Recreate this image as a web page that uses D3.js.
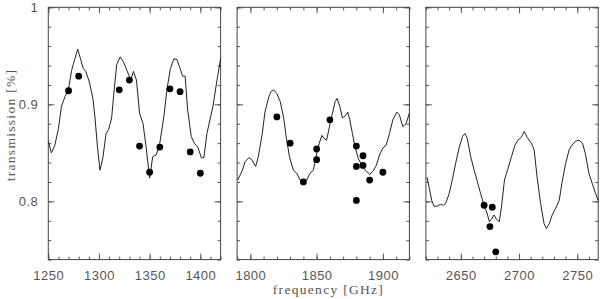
<!DOCTYPE html>
<html>
<head>
<meta charset="utf-8">
<script src="https://cdn.jsdelivr.net/npm/d3@7"></script>
<style>
  body { margin: 0; background: #fff; }
  svg { display: block; }
  .tick text { font-family: "Liberation Sans", sans-serif; font-size: 13px; letter-spacing: 0.5px; fill: #555; }
  .tick line { stroke: #555; }
  .title { font-family: "Liberation Serif", serif; font-size: 13.5px; letter-spacing: 1.3px; fill: #555; }
</style>
</head>
<body>
<svg id="chart"></svg>
<script>
// transmission curves, [frequency GHz, transmission]
var curveLeft = [
  [1250, 0.862], [1253, 0.850], [1256.5, 0.858], [1260, 0.875], [1263, 0.898], [1266.5, 0.908],
  [1270, 0.916], [1273, 0.935], [1276, 0.946], [1279, 0.957], [1282, 0.946], [1284.5, 0.937],
  [1287, 0.934], [1290.5, 0.923], [1294, 0.906], [1296, 0.887], [1298.5, 0.856], [1301, 0.832],
  [1304, 0.846], [1307, 0.870], [1309.5, 0.874], [1312.5, 0.886], [1315, 0.915], [1317.5, 0.941],
  [1321, 0.949], [1324, 0.944], [1327.5, 0.935], [1331.5, 0.925], [1334, 0.934], [1337, 0.925],
  [1340, 0.891], [1343.5, 0.880], [1346.5, 0.856], [1350, 0.824], [1353, 0.846], [1356.5, 0.848],
  [1360, 0.860], [1364, 0.887], [1367, 0.915], [1370.5, 0.937], [1374, 0.947], [1377, 0.946],
  [1380, 0.937], [1382.5, 0.929], [1385, 0.929], [1387.5, 0.894], [1391, 0.867], [1394, 0.860],
  [1397.5, 0.856], [1401, 0.845], [1403.5, 0.845], [1406.5, 0.870], [1409.5, 0.884],
  [1412.5, 0.898], [1416, 0.922], [1420, 0.947]
]
var curveMiddle = [
  [1790.5, 0.822], [1794, 0.832], [1796, 0.841], [1799, 0.845], [1801, 0.843], [1804, 0.836],
  [1806, 0.846], [1809, 0.870], [1811, 0.892], [1814, 0.908], [1815.5, 0.913], [1817.5, 0.915],
  [1820, 0.911], [1822.5, 0.903], [1825, 0.887], [1827, 0.867], [1829.5, 0.846], [1832.5, 0.832],
  [1835, 0.829], [1837.5, 0.822], [1840, 0.819], [1842.5, 0.822], [1845, 0.829], [1847.5, 0.832],
  [1850, 0.849], [1852, 0.860], [1854, 0.868], [1855.5, 0.865], [1857.5, 0.863], [1860, 0.879],
  [1862, 0.891], [1864, 0.903], [1865.5, 0.906], [1867.5, 0.898], [1869.5, 0.886], [1871.5, 0.888],
  [1873.5, 0.892], [1875, 0.884], [1877, 0.870], [1879, 0.856], [1881.5, 0.844], [1884.5, 0.836],
  [1887.5, 0.831], [1890, 0.828], [1892.5, 0.831], [1895, 0.837], [1897.5, 0.848], [1900, 0.855],
  [1902.5, 0.858], [1905, 0.870], [1907.5, 0.884], [1910.5, 0.892], [1912.5, 0.889], [1915, 0.877],
  [1917.5, 0.880], [1920, 0.891]
]
var curveRight = [
  [2621, 0.825], [2623, 0.813], [2625, 0.801], [2627, 0.795], [2629.5, 0.795], [2632.5, 0.797],
  [2635, 0.796], [2637, 0.798], [2640, 0.808], [2643, 0.824], [2645.5, 0.839], [2648.5, 0.855],
  [2651.5, 0.867], [2653.5, 0.870], [2655.5, 0.865], [2658.5, 0.846], [2661.5, 0.832], [2664.5, 0.819],
  [2667, 0.808], [2670, 0.796], [2672.5, 0.788], [2674.5, 0.779], [2676.5, 0.782], [2678.5, 0.786],
  [2680.5, 0.782], [2683, 0.779], [2685, 0.795], [2687.5, 0.822], [2690.5, 0.834], [2693.5, 0.846],
  [2696.5, 0.858], [2699, 0.863], [2702, 0.866], [2704.5, 0.872], [2707, 0.866], [2710.5, 0.860],
  [2713, 0.853], [2715.5, 0.825], [2718.5, 0.798], [2721.5, 0.777], [2723.5, 0.772], [2726, 0.777],
  [2728.5, 0.786], [2731.5, 0.793], [2734.5, 0.801], [2737, 0.820], [2740, 0.839], [2743, 0.853],
  [2745.5, 0.858], [2748.5, 0.862], [2751.5, 0.863], [2754.5, 0.860], [2757, 0.849], [2760, 0.829],
  [2763, 0.818], [2765.5, 0.809], [2768, 0.801]
]

// measured points
var pointsLeft = [
  [1270, 0.914], [1280, 0.929], [1320, 0.915], [1330, 0.925], [1340, 0.857], [1350, 0.830],
  [1360, 0.856], [1370, 0.916], [1380, 0.913], [1390, 0.851], [1400, 0.829]
]
var pointsMiddle = [
  [1820, 0.887], [1830, 0.860], [1840, 0.820], [1850, 0.854], [1850, 0.843], [1860, 0.884],
  [1880, 0.857], [1880, 0.836], [1880, 0.801], [1885, 0.847], [1885, 0.837], [1890, 0.822],
  [1900, 0.830]
]
var pointsRight = [
  [2670, 0.796], [2677, 0.794], [2675, 0.774], [2680, 0.748]
]

var domainsX = [[1250, 1420], [1790, 1920], [2620, 2768]]
var majorX = [[1250, 1300, 1350, 1400], [1800, 1850, 1900], [2650, 2700, 2750]]
var majorY = [0.8, 0.9, 1]
var domainY = [0.74, 1]

var dimensions = {
    width: 600,
    height: 299,
    margin: { top: 7.3, left: 48.3 },
    panelWidth: 172.3,
    panelHeight: 252.3,
    gap: 16.5,
    major: 6,
    minor: 3
}

var svg = d3.select("#chart")
    .attr("width", dimensions.width)
    .attr("height", dimensions.height)

var yScale = d3.scaleLinear()
    .domain(domainY)
    .range([dimensions.margin.top + dimensions.panelHeight, dimensions.margin.top])

var minorY = d3.range(37, 51).map(i => +(i * 0.02).toFixed(2))

var panels = [
    { curve: curveLeft, points: pointsLeft },
    { curve: curveMiddle, points: pointsMiddle },
    { curve: curveRight, points: pointsRight }
]

panels.forEach(function (p, i) {
    var x0 = dimensions.margin.left + i * (dimensions.panelWidth + dimensions.gap)
    var x1 = x0 + dimensions.panelWidth
    var y0 = dimensions.margin.top
    var y1 = y0 + dimensions.panelHeight

    var xScale = d3.scaleLinear().domain(domainsX[i]).range([x0, x1])
    var lo = domainsX[i][0], hi = domainsX[i][1]
    var minorX = d3.range(Math.ceil(lo / 10) * 10, hi + 0.1, 10)

    var g = svg.append("g")

    // ticks on all four sides, pointing inward
    g.append("g").attr("transform", `translate(0,${y1})`)
        .call(d3.axisBottom(xScale).tickValues(minorX).tickSizeInner(-dimensions.minor).tickSizeOuter(0).tickFormat(""))
    g.append("g").attr("transform", `translate(0,${y1})`)
        .call(d3.axisBottom(xScale).tickValues(majorX[i]).tickSizeInner(-dimensions.major).tickSizeOuter(0).tickPadding(11).tickFormat(d3.format("d")))
    g.append("g").attr("transform", `translate(0,${y0})`)
        .call(d3.axisTop(xScale).tickValues(minorX).tickSizeInner(-dimensions.minor).tickSizeOuter(0).tickFormat(""))
    g.append("g").attr("transform", `translate(0,${y0})`)
        .call(d3.axisTop(xScale).tickValues(majorX[i]).tickSizeInner(-dimensions.major).tickSizeOuter(0).tickFormat(""))

    g.append("g").attr("transform", `translate(${x0},0)`)
        .call(d3.axisLeft(yScale).tickValues(minorY).tickSizeInner(-dimensions.minor).tickSizeOuter(0).tickFormat(""))
    g.append("g").attr("transform", `translate(${x0},0)`)
        .call(d3.axisLeft(yScale).tickValues(majorY).tickSizeInner(-dimensions.major).tickSizeOuter(0).tickPadding(10)
            .tickFormat(i == 0 ? (d => d == 1 ? "1" : d3.format(".1f")(d)) : ""))
    g.append("g").attr("transform", `translate(${x1},0)`)
        .call(d3.axisRight(yScale).tickValues(minorY).tickSizeInner(-dimensions.minor).tickSizeOuter(0).tickFormat(""))
    g.append("g").attr("transform", `translate(${x1},0)`)
        .call(d3.axisRight(yScale).tickValues(majorY).tickSizeInner(-dimensions.major).tickSizeOuter(0).tickFormat(""))

    g.selectAll(".domain").remove()

    g.append("rect")
        .attr("x", x0).attr("y", y0)
        .attr("width", dimensions.panelWidth).attr("height", dimensions.panelHeight)
        .attr("fill", "none").attr("stroke", "#444").attr("stroke-width", 1)

    var line = d3.line().x(d => xScale(d[0])).y(d => yScale(d[1]))
    g.append("path")
        .datum(p.curve)
        .attr("d", line)
        .attr("fill", "none")
        .attr("stroke", "#222")
        .attr("stroke-width", 1)

    g.selectAll("circle")
        .data(p.points)
        .enter()
        .append("circle")
        .attr("cx", d => xScale(d[0]))
        .attr("cy", d => yScale(d[1]))
        .attr("r", 3.4)
        .attr("fill", "#000")
})

// axis titles
svg.append("text")
    .attr("class", "title")
    .attr("x", 328.5)
    .attr("y", 294)
    .attr("text-anchor", "middle")
    .text("frequency [GHz]")

svg.append("text")
    .attr("class", "title")
    .attr("transform", "rotate(-90)")
    .attr("x", -125)
    .attr("y", 15)
    .attr("text-anchor", "middle")
    .text("transmission [%]")
</script>
</body>
</html>
